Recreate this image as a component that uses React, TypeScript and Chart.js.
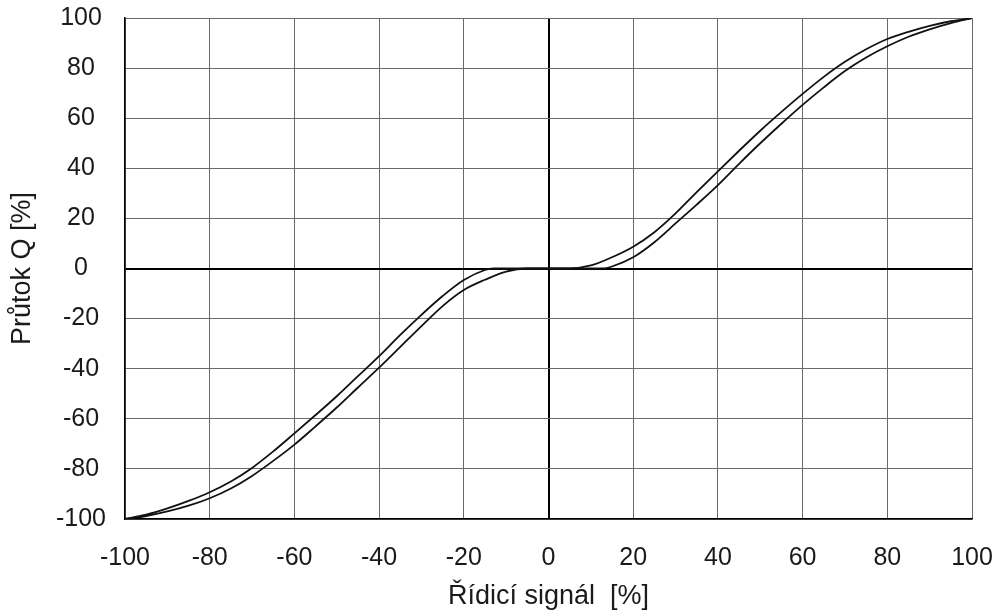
import React, { useEffect, useRef } from "react";
import { Chart, registerables } from "chart.js";

Chart.register(...registerables);

// Right-hand branch (positive control signal)
const rightUpperX = [0, 5, 10, 15, 20, 25, 30, 35, 40, 45, 50, 55, 60, 65, 70, 75, 80, 85, 90, 95, 100];
const rightUpperY = [0, 0, 1.2, 4.5, 8.7, 14.5, 22, 30.5, 38.8, 47, 55, 62.5, 69.7, 76.5, 82.5, 87.5, 91.6, 94.5, 96.9, 98.7, 100];

const rightLowerX = [0, 13, 15, 20, 25, 30, 35, 40, 45, 50, 55, 60, 65, 70, 75, 80, 85, 90, 95, 100];
const rightLowerY = [0, 0, 0.8, 4.5, 10.5, 18, 25.5, 33.3, 41.8, 50, 57.8, 65.3, 72.3, 78.8, 84.2, 88.7, 92.5, 95.5, 98, 100];

// Left-hand branch (negative control signal)
const leftUpperX = [-100, -95, -90, -85, -80, -75, -70, -65, -60, -55, -50, -45, -40, -35, -30, -25, -20, -15, -13, 0];
const leftUpperY = [-100, -98.3, -95.8, -92.8, -89.3, -85, -79.6, -73, -65.8, -58.5, -51, -43, -35, -26.5, -18.5, -11, -4.6, -0.6, 0, 0];

const leftLowerX = [-100, -95, -90, -85, -80, -75, -70, -65, -60, -55, -50, -45, -40, -35, -30, -25, -20, -15, -10, -5, 0];
const leftLowerY = [-100, -98.8, -97, -94.7, -91.7, -87.8, -82.8, -76.8, -70.3, -63, -55.5, -47.5, -39.6, -31.3, -23, -15, -8.6, -4.5, -1.2, 0, 0];

const xTicks = [-100, -80, -60, -40, -20, 0, 20, 40, 60, 80, 100];
const yTicks = [-100, -80, -60, -40, -20, 0, 20, 40, 60, 80, 100];

const xTitle = "Řídicí signál  [%]";
const yTitle = "Průtok Q [%]";

const FONT = "'Liberation Sans', Arial, Helvetica, sans-serif";
const TEXT = "#1a1a1a";

function pts(xs: number[], ys: number[]) {
  return xs.map((x, i) => ({ x, y: ys[i] }));
}

export default function App() {
  const ref = useRef<HTMLCanvasElement | null>(null);

  useEffect(() => {
    if (!ref.current) return;
    const mk = (xs: number[], ys: number[]) => ({
      data: pts(xs, ys),
      showLine: true,
      borderColor: "#111",
      borderWidth: 1.8,
      pointRadius: 0,
      cubicInterpolationMode: "monotone" as const,
      fill: false,
    });
    const gridColor = (ctx: any) => (ctx.tick && ctx.tick.value === 0 ? "#000" : "#6a6a6a");
    const gridWidth = (ctx: any) => (ctx.tick && ctx.tick.value === 0 ? 2 : 1);
    const zeroPad = (s: any) => {
      s.paddingTop = 0;
      s.paddingBottom = 0;
      s.paddingLeft = 0;
      s.paddingRight = 0;
    };

    const chart = new Chart(ref.current, {
      type: "scatter",
      data: {
        datasets: [
          mk(rightUpperX, rightUpperY),
          mk(rightLowerX, rightLowerY),
          mk(leftUpperX, leftUpperY),
          mk(leftLowerX, leftLowerY),
        ],
      },
      options: {
        animation: false,
        responsive: true,
        maintainAspectRatio: false,
        layout: { padding: { left: 0, right: 32, top: 18, bottom: 0 } },
        plugins: { legend: { display: false }, tooltip: { enabled: false } },
        scales: {
          x: {
            type: "linear",
            min: -100,
            max: 100,
            afterFit: (s: any) => {
              s.height = 91;
              zeroPad(s);
            },
            afterBuildTicks: (s: any) => {
              s.ticks = xTicks.map((v) => ({ value: v }));
            },
            border: { color: "#000", width: 1.5 },
            grid: { color: gridColor, lineWidth: gridWidth, drawTicks: false },
            ticks: {
              color: TEXT,
              font: { family: FONT, size: 25 },
              padding: 24,
              maxRotation: 0,
              autoSkip: false,
            },
            title: {
              display: true,
              text: xTitle,
              color: TEXT,
              font: { family: FONT, size: 27 },
              padding: { top: 0, bottom: -3 },
            },
          },
          y: {
            type: "linear",
            min: -100,
            max: 100,
            afterFit: (s: any) => {
              s.width = 125;
              zeroPad(s);
            },
            afterBuildTicks: (s: any) => {
              s.ticks = yTicks.map((v) => ({ value: v }));
            },
            border: { color: "#000", width: 1.5 },
            grid: { color: gridColor, lineWidth: gridWidth, drawTicks: false },
            ticks: {
              color: TEXT,
              font: { family: FONT, size: 25 },
              padding: 19,
              crossAlign: "center",
              autoSkip: false,
            },
            title: {
              display: true,
              text: yTitle,
              color: TEXT,
              font: { family: FONT, size: 27 },
              padding: { top: 6, bottom: 0 },
            },
          },
        },
      },
    });
    return () => chart.destroy();
  }, []);

  return (
    <div style={{ position: "absolute", left: 0, top: 0, width: 1004, height: 610, background: "#fff" }}>
      <canvas ref={ref} />
    </div>
  );
}
